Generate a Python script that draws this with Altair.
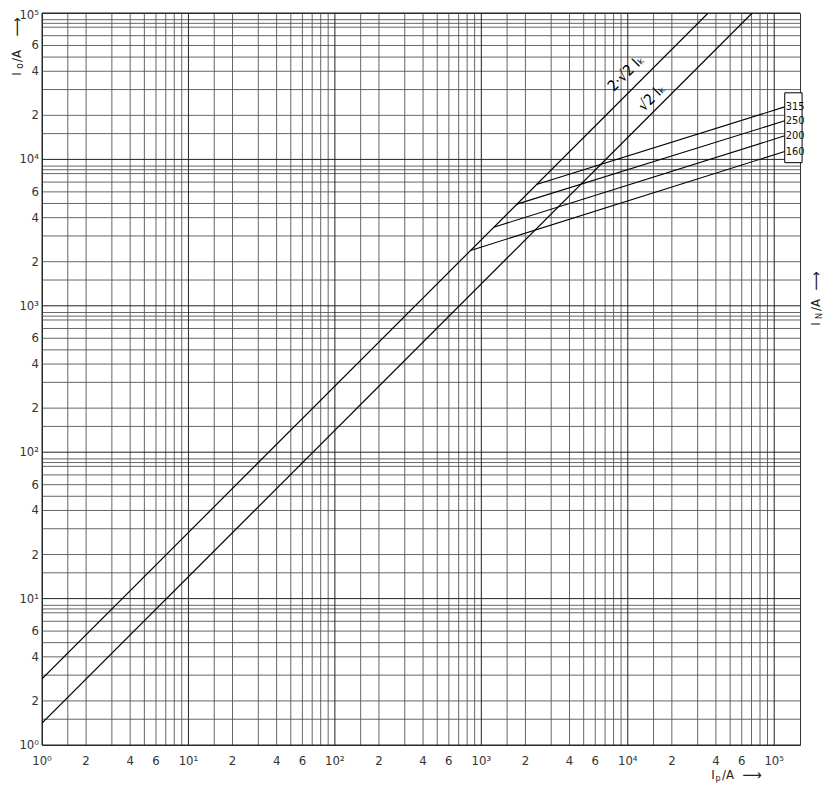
import altair as alt
import pandas as pd

FONT = "DejaVu Sans Condensed, Liberation Sans Narrow, DejaVu Sans, sans-serif"

# ---- tick labels ----
tick_vals = [1, 2, 4, 6, 10, 20, 40, 60, 100, 200, 400, 600,
             1000, 2000, 4000, 6000, 10000, 20000, 40000, 60000, 100000]
tick_text = ["10⁰", "2", "4", "6", "10¹", "2", "4", "6", "10²", "2", "4", "6",
             "10³", "2", "4", "6", "10⁴", "2", "4", "6", "10⁵"]

# ---- grid lines ----
x_minor_mult = [1.5, 2, 3, 4, 5, 6, 7, 8, 9]
y_minor_mult = [1.5, 2, 3, 4, 5, 6, 7, 8, 8.5, 9]
decades = [1, 10, 100, 1000, 10000, 100000]
x_minor = [m * d for d in decades[:-1] for m in x_minor_mult]
y_minor = [m * d for d in decades[:-1] for m in y_minor_mult]

# ---- sqrt2 I_K lines ----
ik_series = ["2√2", "2√2", "√2", "√2"]
ik_x = [1, 35400, 1, 70700]
ik_y = [2.83, 100000, 1.41, 100000]

# ---- fuse cut-off lines I_N ----
fuse_rating = ["315", "250", "200", "160"]
fuse_x0 = [2380, 1750, 1215, 845]
fuse_y0 = [6730, 4950, 3440, 2390]
fuse_x1 = [118000, 118000, 118000, 118000]
fuse_y1 = [22850, 18340, 14490, 11320]

# ---- legend box range (data units) ----
box_x = [118000]
box_x2 = [155000]
box_y = [9500]
box_y2 = [28500]

# ---- line labels ----
lbl_text = ["2·√2 Iₖ", "√2 Iₖ"]
lbl_x = [9700, 14500]
lbl_y = [39000, 26500]

W, H = 758, 732
xs = alt.Scale(type="log", domain=[1, 150000], nice=False)
ys = alt.Scale(type="log", domain=[1, 100000], nice=False)

grid_v = alt.Chart(pd.DataFrame({"v": x_minor})).mark_rule(
    color="#555", strokeWidth=0.9).encode(x=alt.X("v:Q", scale=xs, axis=None))
grid_h = alt.Chart(pd.DataFrame({"v": y_minor})).mark_rule(
    color="#555", strokeWidth=0.9).encode(y=alt.Y("v:Q", scale=ys, axis=None))
dec_v = alt.Chart(pd.DataFrame({"v": decades})).mark_rule(
    color="#222", strokeWidth=1).encode(x=alt.X("v:Q", scale=xs, axis=None))
dec_h = alt.Chart(pd.DataFrame({"v": decades})).mark_rule(
    color="#222", strokeWidth=1).encode(y=alt.Y("v:Q", scale=ys, axis=None))

ik_df = pd.DataFrame({"s": ik_series, "x": ik_x, "y": ik_y})
ik = alt.Chart(ik_df).mark_line(color="black", strokeWidth=1.2, clip=True).encode(
    x=alt.X("x:Q", scale=xs, axis=None),
    y=alt.Y("y:Q", scale=ys, axis=None),
    detail="s:N")

rows = []
for r, a, b, c, d in zip(fuse_rating, fuse_x0, fuse_y0, fuse_x1, fuse_y1):
    rows.append({"r": r, "x": a, "y": b, "o": 0})
    rows.append({"r": r, "x": c, "y": d, "o": 1})
fuse = alt.Chart(pd.DataFrame(rows)).mark_line(color="black", strokeWidth=1.1).encode(
    x=alt.X("x:Q", scale=xs, axis=None),
    y=alt.Y("y:Q", scale=ys, axis=None),
    detail="r:N", order="o:Q")

box = alt.Chart(pd.DataFrame({"x": box_x, "x2": box_x2, "y": box_y, "y2": box_y2})).mark_rect(
    fill="white", stroke="black", strokeWidth=1).encode(
    x=alt.X("x:Q", scale=xs, axis=None), x2="x2:Q",
    y=alt.Y("y:Q", scale=ys, axis=None), y2="y2:Q")

fuse_lbl = alt.Chart(pd.DataFrame({"r": fuse_rating, "x": fuse_x1, "y": fuse_y1})).mark_text(
    align="left", baseline="middle", dx=1, font=FONT, fontSize=11, color="#111").encode(
    x=alt.X("x:Q", scale=xs, axis=None),
    y=alt.Y("y:Q", scale=ys, axis=None), text="r:N")

ik_lbl = alt.Chart(pd.DataFrame({"t": lbl_text, "x": lbl_x, "y": lbl_y})).mark_text(
    angle=315, align="center", baseline="middle", font=FONT, fontSize=15, color="black").encode(
    x=alt.X("x:Q", scale=xs, axis=None),
    y=alt.Y("y:Q", scale=ys, axis=None), text="t:N")

tick_df = pd.DataFrame({"v": tick_vals, "t": tick_text})
xticks = alt.Chart(tick_df).mark_text(
    align="center", baseline="middle", font=FONT, fontSize=13, color="#333").encode(
    x=alt.X("v:Q", scale=xs, axis=None), y=alt.value(H + 16), text="t:N")
yticks = alt.Chart(tick_df[tick_df["v"] < 100000]).mark_text(
    align="right", baseline="middle", font=FONT, fontSize=13, color="#333").encode(
    y=alt.Y("v:Q", scale=ys, axis=None), x=alt.value(-3), text="t:N")
ytop = alt.Chart(tick_df[tick_df["v"] == 100000]).mark_text(
    align="right", baseline="middle", dy=2, font=FONT, fontSize=13, color="#333").encode(
    y=alt.Y("v:Q", scale=ys, axis=None), x=alt.value(-3), text="t:N")

# axis titles, built from pieces: main letter, subscript, unit, arrow
def piece(txt, x, y, size, angle=0):
    return alt.Chart(pd.DataFrame({"t": [txt]})).mark_text(
        angle=angle, align="center", baseline="middle", font=FONT,
        fontSize=size, color="#222").encode(
        x=alt.value(x), y=alt.value(y), text="t:N")

left_title = [
    piece("I", -25, 61, 13, 270),
    piece("o", -22, 53, 10, 270),
    piece("/A", -25, 43, 13, 270),
    piece("⟶", -25, 14, 15, 270),
]
right_title = [
    piece("I", 774, 311, 13, 270),
    piece("N", 777, 303, 9, 270),
    piece("/A", 774, 292, 13, 270),
    piece("⟶", 774, 268, 15, 270),
]
bottom_title = [
    piece("I", 671, 762, 13),
    piece("p", 676, 765, 9),
    piece("/A", 686, 762, 13),
    piece("⟶", 710, 762, 15),
]

chart = alt.layer(
    grid_v, grid_h, dec_v, dec_h, ik, fuse, box, fuse_lbl, ik_lbl,
    xticks, yticks, ytop, *left_title, *right_title, *bottom_title
).properties(
    width=W, height=H,
    autosize=alt.AutoSizeParams(type="none"),
    padding={"left": 34, "top": 5, "right": 25, "bottom": 39},
).configure_view(stroke="#333", strokeWidth=1)

chart.save("out.html", embed_options={"renderer": "svg", "actions": False})
